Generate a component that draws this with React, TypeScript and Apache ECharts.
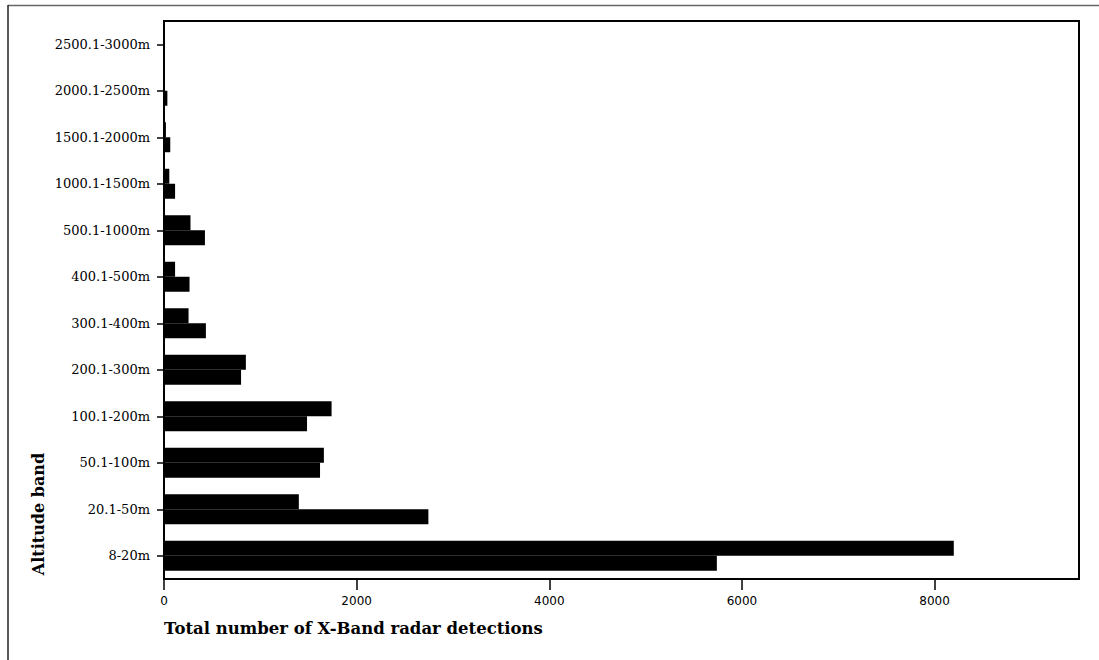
import React, { useEffect, useRef } from "react";
import * as echarts from "echarts";

const categories = [
  "8-20m",
  "20.1-50m",
  "50.1-100m",
  "100.1-200m",
  "200.1-300m",
  "300.1-400m",
  "400.1-500m",
  "500.1-1000m",
  "1000.1-1500m",
  "1500.1-2000m",
  "2000.1-2500m",
  "2500.1-3000m",
];
const upperBars = [8200, 1400, 1660, 1740, 850, 255, 115, 275, 55, 20, 8, 3];
const lowerBars = [5740, 2745, 1620, 1485, 800, 435, 265, 425, 115, 65, 35, 5];
const xTicks = [0, 2000, 4000, 6000, 8000];

const yTitle = "Altitude band";
const xTitle = "Total number of X-Band radar detections";

export default function App() {
  const ref = useRef<HTMLDivElement>(null);
  useEffect(() => {
    if (!ref.current) return;
    const chart = echarts.init(ref.current, null, { renderer: "svg" });
    chart.setOption({
      animation: false,
      backgroundColor: "#ffffff",
      grid: {
        left: 164,
        top: 21,
        right: 20,
        bottom: 81,
        show: true,
        borderColor: "#000",
        borderWidth: 2,
        backgroundColor: "transparent",
      },
      xAxis: {
        type: "value",
        min: 0,
        max: 9500,
        interval: xTicks[1] - xTicks[0],
        splitLine: { show: false },
        axisLine: { show: true, lineStyle: { color: "#000", width: 1.5 } },
        axisTick: { show: true, length: 11, lineStyle: { color: "#000", width: 1.5 } },
        axisLabel: {
          margin: 16,
          color: "#000",
          fontFamily: "DejaVu Sans",
          fontSize: 12,
          showMaxLabel: false,
          formatter: (v: number) => (xTicks.includes(v) ? String(v) : ""),
        },
      },
      yAxis: {
        type: "category",
        data: categories,
        boundaryGap: true,
        axisLine: { show: true, lineStyle: { color: "#000", width: 1.5 } },
        axisTick: { show: true, alignWithLabel: true, length: 7, lineStyle: { color: "#000", width: 1.5 } },
        axisLabel: {
          margin: 14,
          color: "#000",
          fontFamily: "DejaVu Serif",
          fontSize: 13,
        },
        splitLine: { show: false },
      },
      graphic: [
        {
          type: "line",
          shape: { x1: 8, y1: 5.5, x2: 1099, y2: 5.5 },
          style: { stroke: "#666", lineWidth: 1.5 },
        },
        {
          type: "line",
          shape: { x1: 8, y1: 5, x2: 8, y2: 660 },
          style: { stroke: "#222", lineWidth: 1.5 },
        },
        {
          type: "text",
          x: 38,
          y: 514,
          rotation: Math.PI / 2,
          style: {
            text: yTitle,
            fontFamily: "DejaVu Serif",
            fontWeight: "bold",
            fontSize: 16,
            fill: "#000",
            align: "center",
            verticalAlign: "middle",
          },
        },
        {
          type: "text",
          x: 164,
          y: 628,
          style: {
            text: xTitle,
            fontFamily: "DejaVu Serif",
            fontWeight: "bold",
            fontSize: 16.5,
            fill: "#000",
            align: "left",
            verticalAlign: "middle",
          },
        },
      ],
      series: [
        {
          name: "Upper bar",
          type: "bar",
          data: upperBars,
          barWidth: 15,
          barGap: "0%",
          itemStyle: { color: "#000" },
        },
        {
          name: "Lower bar",
          type: "bar",
          data: lowerBars,
          barWidth: 15,
          barGap: "0%",
          itemStyle: { color: "#000" },
        },
      ],
    });
    return () => chart.dispose();
  }, []);
  return (
    <div
      ref={ref}
      style={{ position: "fixed", left: 0, top: 0, width: 1099, height: 660, background: "#fff" }}
    />
  );
}
